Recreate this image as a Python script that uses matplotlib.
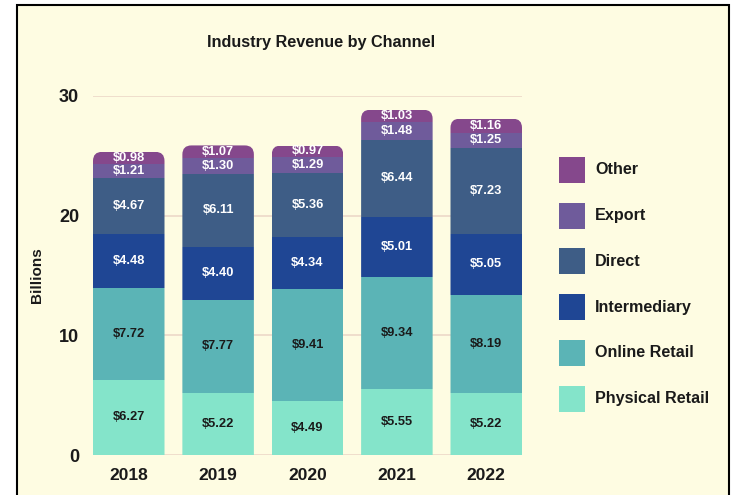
import matplotlib
matplotlib.use("Agg")
import matplotlib.pyplot as plt
import numpy as np
from matplotlib.patches import FancyBboxPatch, Rectangle

plt.rcParams['font.family'] = ['Liberation Sans', 'DejaVu Sans']

years = ['2018', '2019', '2020', '2021', '2022']
physical = [6.27, 5.22, 4.49, 5.55, 5.22]
online = [7.72, 7.77, 9.41, 9.34, 8.19]
intermediary = [4.48, 4.40, 4.34, 5.01, 5.05]
direct = [4.67, 6.11, 5.36, 6.44, 7.23]
export = [1.21, 1.30, 1.29, 1.48, 1.25]
other = [0.98, 1.07, 0.97, 1.03, 1.16]

series = [physical, online, intermediary, direct, export, other]
names = ['Physical Retail', 'Online Retail', 'Intermediary', 'Direct', 'Export', 'Other']
colors = ['#84e4ca', '#5bb4b6', '#1f4694', '#3e5d86', '#6f5b9b', '#85488c']
txtcol = ['#1a1a1a', '#1a1a1a', 'white', 'white', 'white', 'white']

W, H = 732, 495
bg = '#fefce2'
fig = plt.figure(figsize=(W / 100, H / 100), dpi=100)
fig.patch.set_facecolor('white')
# cream panel with black border
fig.add_artist(Rectangle((17 / W, -0.05), 712 / W, 1.05 - 5 / H, transform=fig.transFigure,
                         facecolor=bg, edgecolor='black', linewidth=1.5, zorder=0))

ax = fig.add_axes([93 / W, 1 - 455 / H, 429 / W, 359 / H])
ax.set_facecolor('none')
x = np.arange(len(years))
bw = 0.8
ax.set_xlim(-0.4, len(years) - 0.6)
ax.set_ylim(0, 30)
ax.set_yticks([0, 10, 20, 30])
ax.grid(axis='y', color='#ecd9c8', linewidth=1.2)
ax.set_axisbelow(True)
for s in ax.spines.values():
    s.set_visible(False)
ax.tick_params(length=0)
ax.tick_params(axis='y', pad=10, labelsize=13)
ax.tick_params(axis='x', pad=9, labelsize=12.5)
ax.set_xticks(x)
ax.set_xticklabels(years, fontweight='bold', color='#1a1a1a')
for t in ax.get_yticklabels():
    t.set_fontweight('bold')
    t.set_color('#1a1a1a')
ax.set_ylabel('Billions', fontsize=11, fontweight='bold', color='#1a1a1a', labelpad=11)

# rounded top for each stack
xpp = (ax.get_xlim()[1] - ax.get_xlim()[0]) / 429
ypp = 30 / 359
aspect = ypp / xpp
totals = np.sum(series, axis=0)
clips = []
for i in range(len(years)):
    c = FancyBboxPatch((x[i] - bw / 2, -5), bw, totals[i] + 5,
                       boxstyle='round,pad=0,rounding_size=%f' % (9 * xpp),
                       mutation_aspect=aspect, transform=ax.transData)
    clips.append(c)

bottom = np.zeros(len(years))
for k, vals in enumerate(series):
    bars = ax.bar(x, vals, bw, bottom=bottom, color=colors[k], linewidth=0)
    for i, b in enumerate(bars):
        b.set_clip_path(clips[i])
        ax.text(x[i], bottom[i] + vals[i] / 2, '$%.2f' % vals[i], ha='center', va='center',
                fontsize=9.3, fontweight='bold', color=txtcol[k])
    bottom += np.array(vals)

fig.text(321 / W, 1 - 43 / H, 'Industry Revenue by Channel', ha='center', va='center',
         fontsize=11.7, fontweight='bold', color='#1a1a1a')

# legend, drawn by hand (top entry = last series)
for j, k in enumerate(range(len(names) - 1, -1, -1)):
    yc = 170 + j * 45.7
    fig.add_artist(Rectangle((559 / W, 1 - (yc + 13) / H), 26 / W, 26 / H,
                             transform=fig.transFigure, facecolor=colors[k], linewidth=0))
    fig.text(595 / W, 1 - yc / H, names[k], ha='left', va='center',
             fontsize=11.6, fontweight='bold', color='#1a1a1a')

fig.savefig('out.png', dpi=100, facecolor='white')
